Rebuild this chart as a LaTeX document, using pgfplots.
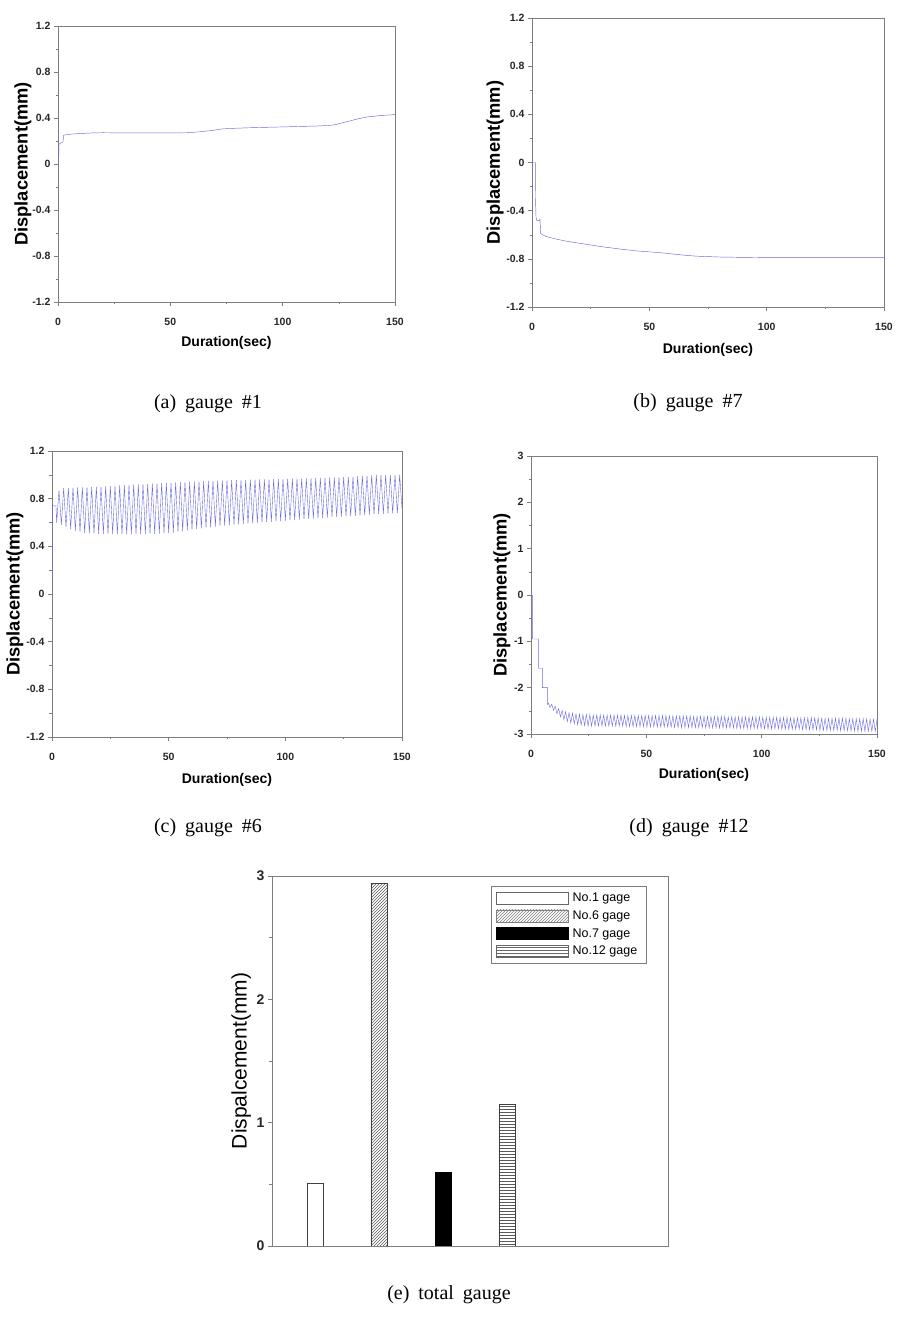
\documentclass[border=0pt]{standalone}
\usepackage{fontspec}
\setmainfont{Liberation Serif}
\newfontfamily\axfont{Liberation Sans}
\usepackage{pgfplots}
\pgfplotsset{compat=1.18}
\usetikzlibrary{patterns}
\definecolor{lineblue}{RGB}{105,105,225}
\definecolor{framegray}{RGB}{125,125,125}
\pgfplotsset{
 tsplot/.style={
   scale only axis, anchor=south west,
   xmin=0,xmax=150, xtick={0,50,100,150}, minor x tick num=1,
   minor y tick num=1,
   tick align=outside, tick pos=left,
   major tick length=4pt, minor tick length=2.5pt,
   axis line style={draw=framegray},
   every tick/.style={draw=framegray},
   /pgf/number format/assume math mode=true,
   tick label style={font=\axfont\bfseries\fontsize{10.5}{10.5}\selectfont, text=black!85},
   xticklabel style={yshift=-9pt},
   xlabel={Duration(sec)},
   ylabel={Displacement(mm)},
   xlabel style={font=\axfont\bfseries\fontsize{14}{14}\selectfont, anchor=center},
   ylabel style={font=\axfont\bfseries\fontsize{18.3}{18.3}\selectfont, anchor=center},
 },
 ser/.style={lineblue, line width=0.45pt, mark=none},
}
\begin{document}
\begin{tikzpicture}
\path[use as bounding box] (0pt,0pt) rectangle (898pt,1323pt);

% (a) gauge #1
\begin{axis}[tsplot, at={(58pt,1021pt)}, width=337pt, height=276pt,
  ymin=-1.2, ymax=1.2, ytick={-1.2,-0.8,-0.4,0,0.4,0.8,1.2},
  xlabel style={at={(axis description cs:0.5,-0.149)}},
  ylabel style={at={(axis description cs:-0.104,0.5)}}]
\addplot[ser] coordinates {
(0,0)(0.3,0)(0.4,0.17)(1.0,0.18)(2.2,0.19)(2.5,0.25)(4,0.255)(6,0.26)(10,0.265)(15,0.27)(20,0.272)(30,0.27)(40,0.27)(50,0.27)(58,0.272)(63,0.28)(68,0.29)(73,0.305)(78,0.31)(85,0.315)(95,0.32)(105,0.325)(115,0.33)(120,0.335)(123,0.34)(126,0.355)(130,0.375)(134,0.395)(138,0.41)(143,0.42)(150,0.43)
};
\end{axis}

% (b) gauge #7
\begin{axis}[tsplot, at={(532pt,1016pt)}, width=352pt, height=289pt,
  ymin=-1.2, ymax=1.2, ytick={-1.2,-0.8,-0.4,0,0.4,0.8,1.2},
  xlabel style={at={(axis description cs:0.5,-0.149)}},
  ylabel style={at={(axis description cs:-0.105,0.5)}}]
\addplot[ser] coordinates {
(0,0)(1.4,0)(1.5,-0.3)(1.7,-0.45)(2,-0.48)(3.2,-0.48)(3.4,-0.47)(3.7,-0.59)(4.5,-0.6)(6,-0.615)(8,-0.625)(10,-0.635)(15,-0.655)(20,-0.67)(25,-0.685)(30,-0.7)(38,-0.72)(45,-0.735)(50,-0.742)(55,-0.75)(60,-0.76)(65,-0.77)(70,-0.778)(80,-0.785)(90,-0.788)(100,-0.79)(150,-0.79)
};
\end{axis}

% (c) gauge #6
\begin{axis}[tsplot, at={(52pt,586pt)}, width=350pt, height=286pt,
  ymin=-1.2, ymax=1.2, ytick={-1.2,-0.8,-0.4,0,0.4,0.8,1.2},
  xlabel style={at={(axis description cs:0.5,-0.150)}},
  ylabel style={at={(axis description cs:-0.106,0.5)}}]
\addplot[ser, line width=0.4pt] coordinates {
(0,0)(0.3,0.74)(1.7,0.74)(2,0.60)(3,0.87)(4,0.58)(5,0.89)(6,0.56)(7,0.891)(8,0.545)(9,0.893)(10,0.53)(11,0.894)(12,0.522)(13,0.895)(14,0.514)(15,0.897)(16,0.509)(17,0.898)(18,0.507)(19,0.899)(20,0.505)(21,0.901)(22,0.504)(23,0.904)(24,0.503)(25,0.906)(26,0.502)(27,0.908)(28,0.501)(29,0.911)(30,0.50)(31,0.913)(32,0.50)(33,0.915)(34,0.501)(35,0.918)(36,0.502)(37,0.92)(38,0.502)(39,0.922)(40,0.503)(41,0.925)(42,0.504)(43,0.927)(44,0.505)(45,0.929)(46,0.507)(47,0.932)(48,0.508)(49,0.934)(50,0.51)(51,0.936)(52,0.516)(53,0.937)(54,0.522)(55,0.939)(56,0.528)(57,0.941)(58,0.534)(59,0.942)(60,0.54)(61,0.944)(62,0.545)(63,0.945)(64,0.55)(65,0.947)(66,0.555)(67,0.949)(68,0.56)(69,0.95)(70,0.565)(71,0.952)(72,0.569)(73,0.954)(74,0.573)(75,0.955)(76,0.577)(77,0.956)(78,0.581)(79,0.957)(80,0.585)(81,0.957)(82,0.588)(83,0.958)(84,0.591)(85,0.959)(86,0.594)(87,0.96)(88,0.597)(89,0.961)(90,0.60)(91,0.961)(92,0.603)(93,0.962)(94,0.606)(95,0.963)(96,0.609)(97,0.964)(98,0.612)(99,0.965)(100,0.615)(101,0.966)(102,0.618)(103,0.967)(104,0.621)(105,0.968)(106,0.624)(107,0.969)(108,0.627)(109,0.97)(110,0.63)(111,0.972)(112,0.633)(113,0.973)(114,0.636)(115,0.974)(116,0.639)(117,0.975)(118,0.642)(119,0.976)(120,0.645)(121,0.977)(122,0.647)(123,0.979)(124,0.649)(125,0.98)(126,0.651)(127,0.983)(128,0.653)(129,0.985)(130,0.655)(131,0.988)(132,0.658)(133,0.991)(134,0.661)(135,0.993)(136,0.664)(137,0.996)(138,0.667)(139,0.999)(140,0.67)(141,1.0)(142,0.672)(143,1.0)(144,0.674)(145,1.0)(146,0.676)(147,1.0)(148,0.678)(149,1.0)(150,0.72)
};
\end{axis}

% (d) gauge #12
\begin{axis}[tsplot, at={(531pt,589pt)}, width=346pt, height=278pt,
  ymin=-3, ymax=3, ytick={-3,-2,-1,0,1,2,3},
  xlabel style={at={(axis description cs:0.5,-0.147)}},
  ylabel style={at={(axis description cs:-0.084,0.5)}}]
\addplot[ser, line width=0.4pt] coordinates {
(0,0)(0.7,0)(0.7,-0.95)(3.2,-0.95)(3.2,-1.58)(4.9,-1.58)(4.9,-2.0)(7.2,-2.0)(7.2,-2.36)(7.5,-2.33)(8.25,-2.43)(9,-2.36)(9.75,-2.49)(10.5,-2.40)(11.25,-2.56)(12,-2.45)(12.75,-2.63)(13.5,-2.49)(14.25,-2.69)(15,-2.52)(15.75,-2.73)(16.5,-2.54)(17.25,-2.76)(18,-2.55)(18.75,-2.78)(19.5,-2.57)(20.25,-2.80)(21,-2.57)(21.75,-2.81)(22.5,-2.58)(23.25,-2.82)(24,-2.58)(24.75,-2.83)(25.5,-2.58)(26.25,-2.83)(27,-2.59)(27.75,-2.83)(28.5,-2.59)(29.25,-2.83)
(30,-2.59)(30.75,-2.83)(31.5,-2.59)(32.25,-2.83)(33,-2.59)(33.75,-2.83)(34.5,-2.59)(35.25,-2.83)(36,-2.59)(36.75,-2.83)(37.5,-2.59)(38.25,-2.83)(39,-2.59)(39.75,-2.83)(40.5,-2.60)(41.25,-2.84)(42,-2.60)(42.75,-2.84)(43.5,-2.60)(44.25,-2.84)(45,-2.60)(45.75,-2.84)(46.5,-2.60)(47.25,-2.84)(48,-2.60)(48.75,-2.84)(49.5,-2.60)(50.25,-2.85)(51,-2.60)(51.75,-2.85)(52.5,-2.60)(53.25,-2.85)(54,-2.60)(54.75,-2.85)(55.5,-2.60)(56.25,-2.85)(57,-2.60)(57.75,-2.85)(58.5,-2.60)(59.25,-2.85)
(60,-2.61)(60.75,-2.85)(61.5,-2.61)(62.25,-2.86)(63,-2.61)(63.75,-2.86)(64.5,-2.61)(65.25,-2.86)(66,-2.61)(66.75,-2.86)(67.5,-2.61)(68.25,-2.86)(69,-2.61)(69.75,-2.86)(70.5,-2.62)(71.25,-2.86)(72,-2.62)(72.75,-2.86)(73.5,-2.62)(74.25,-2.86)(75,-2.62)(75.75,-2.87)(76.5,-2.62)(77.25,-2.87)(78,-2.62)(78.75,-2.87)(79.5,-2.62)(80.25,-2.87)(81,-2.62)(81.75,-2.87)(82.5,-2.62)(83.25,-2.87)(84,-2.62)(84.75,-2.87)(85.5,-2.63)(86.25,-2.87)(87,-2.63)(87.75,-2.87)(88.5,-2.63)(89.25,-2.88)
(90,-2.63)(90.75,-2.88)(91.5,-2.63)(92.25,-2.88)(93,-2.63)(93.75,-2.88)(94.5,-2.63)(95.25,-2.88)(96,-2.63)(96.75,-2.88)(97.5,-2.63)(98.25,-2.88)(99,-2.63)(99.75,-2.88)(100.5,-2.64)(101.25,-2.89)(102,-2.64)(102.75,-2.89)(103.5,-2.64)(104.25,-2.89)(105,-2.64)(105.75,-2.89)(106.5,-2.64)(107.25,-2.89)(108,-2.64)(108.75,-2.90)(109.5,-2.64)(110.25,-2.90)(111,-2.64)(111.75,-2.90)(112.5,-2.65)(113.25,-2.90)(114,-2.65)(114.75,-2.90)(115.5,-2.65)(116.25,-2.90)(117,-2.65)(117.75,-2.91)(118.5,-2.65)(119.25,-2.91)
(120,-2.65)(120.75,-2.91)(121.5,-2.65)(122.25,-2.91)(123,-2.65)(123.75,-2.91)(124.5,-2.65)(125.25,-2.92)(126,-2.66)(126.75,-2.92)(127.5,-2.66)(128.25,-2.92)(129,-2.66)(129.75,-2.92)(130.5,-2.66)(131.25,-2.92)(132,-2.66)(132.75,-2.92)(133.5,-2.66)(134.25,-2.93)(135,-2.66)(135.75,-2.93)(136.5,-2.66)(137.25,-2.93)(138,-2.67)(138.75,-2.93)(139.5,-2.67)(140.25,-2.93)(141,-2.67)(141.75,-2.94)(142.5,-2.67)(143.25,-2.94)(144,-2.67)(144.75,-2.94)(145.5,-2.68)(146.25,-2.94)(147,-2.68)(147.75,-2.94)(148.5,-2.68)(149.25,-2.94)(150,-2.68)
};
\end{axis}

% (e) total gauge
\begin{axis}[scale only axis, anchor=south west, at={(272pt,77pt)}, width=396pt, height=370pt,
  xmin=0.33, xmax=6.52, ymin=0, ymax=3, xtick=\empty,
  ytick={0,1,2,3}, minor y tick num=1,
  tick align=outside, tick pos=left,
  major tick length=4pt, minor tick length=3pt,
  axis line style={draw=framegray}, every tick/.style={draw=framegray},
  /pgf/number format/assume math mode=true,
  yticklabel style={font=\axfont\bfseries\fontsize{14}{14}\selectfont, text=black!85},
  ylabel={Dispalcement(mm)},
  ylabel style={font=\axfont\fontsize{21}{21}\selectfont, at={(axis description cs:-0.078,0.5)}, anchor=center},
  legend cell align=left,
  legend style={at={(rel axis cs:0.553,0.973)}, anchor=north west, draw=framegray, fill=white,
    font=\axfont\fontsize{12.5}{12.5}\selectfont, inner xsep=5pt, inner ysep=5pt, row sep=3.5pt,
    nodes={inner xsep=4pt}}]
\addplot[ybar, bar width=16pt, bar shift=0pt, draw=black!75, fill=white,
  legend image code/.code={\draw[draw=black!60,fill=white] (0pt,-6pt) rectangle (72pt,6pt);}]
  coordinates {(1,0.51)};
\addlegendentry{No.1 gage}
\addplot[ybar, bar width=16pt, bar shift=0pt, draw=black!75, pattern=north east lines, pattern color=black!65,
  legend image code/.code={\draw[draw=black!50,pattern=north east lines,pattern color=black!50] (0pt,-6pt) rectangle (72pt,6pt);}]
  coordinates {(2,2.94)};
\addlegendentry{No.6 gage}
\addplot[ybar, bar width=16pt, bar shift=0pt, draw=black, fill=black,
  legend image code/.code={\draw[draw=black,fill=black] (0pt,-6pt) rectangle (72pt,6pt);}]
  coordinates {(3,0.60)};
\addlegendentry{No.7 gage}
\addplot[ybar, bar width=16pt, bar shift=0pt, draw=black!75, pattern=horizontal lines, pattern color=black!65,
  legend image code/.code={\draw[draw=black!60,pattern=horizontal lines,pattern color=black!60] (0pt,-6pt) rectangle (72pt,6pt);}]
  coordinates {(4,1.15)};
\addlegendentry{No.12 gage}
\end{axis}

% captions
\node[font=\fontsize{20}{20}\selectfont] at (208pt,919pt) {(a)\hspace{0.45em}gauge\hspace{0.45em}\#1};
\node[font=\fontsize{20}{20}\selectfont] at (688pt,920pt) {(b)\hspace{0.45em}gauge\hspace{0.45em}\#7};
\node[font=\fontsize{20}{20}\selectfont] at (208pt,495pt) {(c)\hspace{0.45em}gauge\hspace{0.45em}\#6};
\node[font=\fontsize{20}{20}\selectfont] at (689pt,495pt) {(d)\hspace{0.45em}gauge\hspace{0.45em}\#12};
\node[font=\fontsize{20}{20}\selectfont] at (449pt,28pt) {(e)\hspace{0.45em}total\hspace{0.45em}gauge};
\end{tikzpicture}
\end{document}
